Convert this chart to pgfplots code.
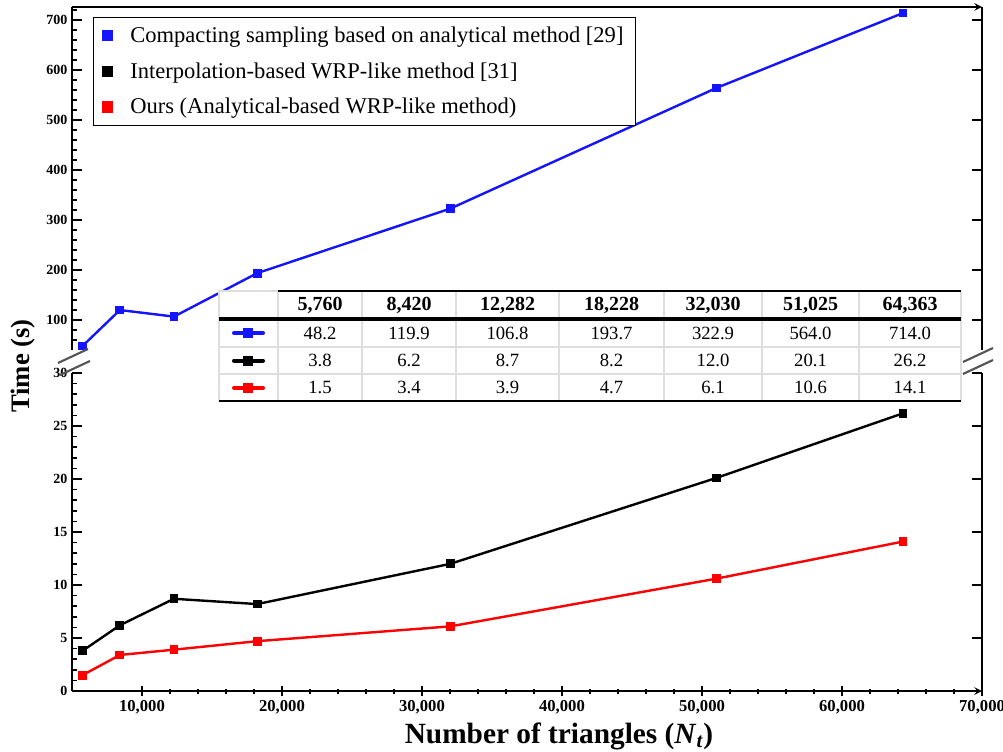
\documentclass[border=0pt]{standalone}
\usepackage{fontspec}
\setmainfont{Liberation Serif}
\usepackage{pgfplots}
\usepackage{pgfplotstable}
\pgfplotsset{compat=1.18}
\definecolor{cblue}{RGB}{20,20,255}
\definecolor{cred}{RGB}{255,0,0}
\definecolor{breakgray}{RGB}{85,85,85}
\definecolor{gridgray}{RGB}{222,222,222}

% N_t, compacting [29], interpolation WRP [31], ours
\pgfplotstableread{
n t29 t31 ours
5760 48.2 3.8 1.5
8420 119.9 6.2 3.4
12282 106.8 8.7 3.9
18228 193.7 8.2 4.7
32030 322.9 12.0 6.1
51025 564.0 20.1 10.6
64363 714.0 26.2 14.1
}\timedata

\pgfplotsset{
  common/.style={
    width=682.5pt, scale only axis,
    xmin=5000, xmax=70000,
    axis line style={line width=1.5pt,-},
    tick style={line width=1.1pt,black},
    major tick length=7.5pt, minor tick length=3.75pt,
    tick align=inside,
    /pgf/number format/assume math mode=true,
    /pgf/number format/1000 sep={,},
    scaled ticks=false,
    yticklabel style={font=\bfseries\fontsize{10.5}{12}\selectfont},
    xticklabel style={font=\bfseries\fontsize{12.5}{14}\selectfont},
    ytick pos=left,
    clip=false,
  },
  dataline/.style={line width=1.8pt, mark=square*, mark size=2.4pt, mark options={solid}},
}

\begin{document}
\begin{tikzpicture}
\path[use as bounding box] (-54pt,-45pt) rectangle (698.25pt,518.25pt);

% lower part, 0-30 s
\begin{axis}[common, name=low, at={(0,0)}, anchor=south west, height=238.5pt,
  ymin=0, ymax=30, ytick={0,5,...,30}, minor y tick num=4,
  xtick={10000,20000,...,70000}, minor x tick num=4,
  axis x line=bottom, axis y line=box]
\addplot[black, dataline] table[x=n,y=t31]{\timedata};
\addplot[cred, dataline] table[x=n,y=ours]{\timedata};
\draw[line width=1.5pt] (rel axis cs:1,0) -- (rel axis cs:1,1);
\pgfplotsinvokeforeach{5,10,...,30}{\draw[line width=1.1pt] (axis cs:70000,#1) -- ++(-7.5pt,0pt);}
\end{axis}

% upper part, 40-726 s
\begin{axis}[common, name=up, at={(0,255.75pt)}, anchor=south west, height=257.25pt,
  ymin=40, ymax=726, ytick={100,200,...,700}, minor ytick={60,80,...,720}, xtick=\empty,
  axis x line=top, axis y line=box,
  legend style={at={(0.023,0.971)}, anchor=north west, draw=black, line width=0.9pt,
    fill=white, font=\fontsize{16.9}{20}\selectfont, row sep=9.5pt, column sep=12pt,
    inner xsep=7pt, inner ysep=5pt},
  legend cell align=left,
  legend image code/.code={\draw[#1, only marks, mark=square*, mark size=3.3pt] plot coordinates {(0cm,0cm)};}]
\addplot[cblue, dataline] table[x=n,y=t29]{\timedata};
\addlegendentry{Compacting sampling based on analytical method [29]}
\addlegendimage{black, dataline}
\addlegendentry{Interpolation-based WRP-like method [31]}
\addlegendimage{cred, dataline}
\addlegendentry{Ours (Analytical-based WRP-like method)}
\draw[line width=1.5pt] (rel axis cs:1,0) -- (rel axis cs:1,1);
\pgfplotsinvokeforeach{100,200,...,700}{\draw[line width=1.1pt] (axis cs:70000,#1) -- ++(-7.5pt,0pt);}
\end{axis}

% overlay in pixel units, y downwards
\begin{scope}[x=0.75pt,y=-0.75pt,shift={(-54pt,518.25pt)}]
  % data table
  \fill[white] (219,291) rectangle (961,401);
  \draw[gridgray, line width=0.8pt] (219,401) -- (219,291) -- (278,291);
  \foreach \c in {278,362,456,559,664,762,859,961} \draw[gridgray, line width=0.8pt] (\c,291) -- (\c,401);
  \foreach \r in {347,374} \draw[gridgray, line width=0.8pt] (219,\r) -- (961,\r);
  \draw[line width=1.8pt] (278,291) -- (961,291);
  \draw[line width=2.4pt] (219,319) -- (961,319);
  \draw[line width=2pt] (219,401) -- (961,401);
  \foreach \x/\h/\a/\b/\o in {320/5{,}760/48.2/3.8/1.5, 409/8{,}420/119.9/6.2/3.4,
      507.5/12{,}282/106.8/8.7/3.9, 611.5/18{,}228/193.7/8.2/4.7, 713/32{,}030/322.9/12.0/6.1,
      810.5/51{,}025/564.0/20.1/10.6, 910/64{,}363/714.0/26.2/14.1} {
    \node[font=\bfseries\fontsize{15}{18}\selectfont] at (\x,305) {\h};
    \node[font=\fontsize{14}{17}\selectfont] at (\x,333) {\a};
    \node[font=\fontsize{14}{17}\selectfont] at (\x,360.5) {\b};
    \node[font=\fontsize{14}{17}\selectfont] at (\x,387.5) {\o};
  }
  \foreach \col/\yy in {cblue/333, black/360.5, cred/387.5} {
    \draw[\col, line width=3pt, line cap=round] (234,\yy) -- (263,\yy);
    \fill[\col] (243,\yy-5) rectangle (253,\yy+5);
  }
  % axis break marks
  \draw[breakgray, line width=1.6pt] (58,363) -- (88,349);
  \draw[breakgray, line width=1.6pt] (60,375) -- (90,361);
  \draw[breakgray, line width=1.6pt] (963,362) -- (993,348);
  \draw[breakgray, line width=1.6pt] (963,374) -- (993,360);
  % axis titles
  \node[rotate=90, font=\bfseries\fontsize{20}{24}\selectfont] at (23,366) {Time (s)};
  \node[font=\bfseries\fontsize{22}{26}\selectfont] at (559,736) {Number of triangles (\textit{N}\textsubscript{\textit{t}})};
\end{scope}
\end{tikzpicture}
\end{document}
